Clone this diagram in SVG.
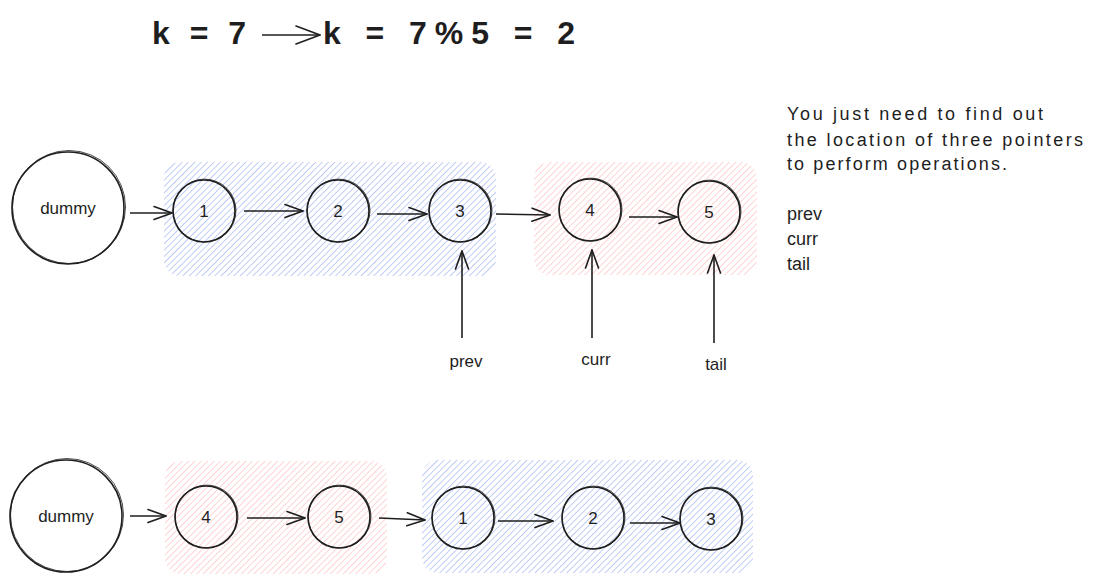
<svg xmlns="http://www.w3.org/2000/svg" width="1094" height="583" viewBox="0 0 1094 583">
  <defs>
    <pattern id="hBlue" width="4.5" height="4.5" patternUnits="userSpaceOnUse" patternTransform="rotate(45)">
      <line x1="0" y1="0" x2="0" y2="4.5" stroke="#9fb3f2" stroke-width="1.3"/>
    </pattern>
    <pattern id="hRed" width="4.5" height="4.5" patternUnits="userSpaceOnUse" patternTransform="rotate(45)">
      <line x1="0" y1="0" x2="0" y2="4.5" stroke="#ffbcbc" stroke-width="1.3"/>
    </pattern>
    <marker id="ah" viewBox="0 0 20 16" refX="19" refY="8" markerWidth="20" markerHeight="16" markerUnits="userSpaceOnUse" orient="auto">
      <path d="M1,1.5 L19,8 L1,14.5" fill="none" stroke="#1e1e1e" stroke-width="1.6" stroke-linecap="round"/>
    </marker>
    <marker id="ahBig" viewBox="0 0 26 22" refX="25" refY="11" markerWidth="26" markerHeight="22" markerUnits="userSpaceOnUse" orient="auto">
      <path d="M1,2 L25,11 L1,20" fill="none" stroke="#1e1e1e" stroke-width="1.6" stroke-linecap="round"/>
    </marker>
  </defs>
  <style>
    .node circle { fill: none; stroke: #1e1e1e; }
    .c1 { stroke-width: 1.6; }
    .c2 { stroke-width: 0.8; }
    .lbl { font-family: "Liberation Sans", Arial, sans-serif; font-size: 17px; fill: #1e1e1e; text-anchor: middle; }
    .txt { font-family: "Liberation Sans", Arial, sans-serif; font-size: 18px; fill: #1e1e1e; }
    .title { font-family: "Liberation Sans", Arial, sans-serif; font-size: 32px; font-weight: bold; fill: #1e1e1e; }
    .conn line { stroke: #1e1e1e; stroke-width: 1.6; fill: none; marker-end: url(#ah); }
    .conn line.big { marker-end: url(#ahBig); }
    .bg { stroke: none; }
  </style>
  <rect width="1094" height="583" fill="#ffffff"/>

  <g id="title">
    <text class="title" x="152" y="44" textLength="94" lengthAdjust="spacing">k = 7</text>
    <text class="title" x="323" y="44" textLength="252" lengthAdjust="spacing">k = 7%5 = 2</text>
  </g>

  <g id="groups">
    <rect id="bg-top-blue" class="bg" x="164" y="162" width="332" height="114" rx="16" fill="url(#hBlue)"/>
    <rect id="bg-top-red" class="bg" x="534" y="162" width="223" height="113" rx="16" fill="url(#hRed)"/>
    <rect id="bg-bot-red" class="bg" x="165" y="461" width="222" height="113" rx="16" fill="url(#hRed)"/>
    <rect id="bg-bot-blue" class="bg" x="422" y="460" width="331" height="113" rx="16" fill="url(#hBlue)"/>
  </g>

  <g id="connectors" class="conn">
    <line class="big" x1="262" y1="35" x2="320" y2="35"/>
    <line x1="130" y1="213" x2="172" y2="213"/>
    <line x1="244" y1="211" x2="303" y2="211"/>
    <line x1="377" y1="214" x2="427" y2="214"/>
    <line x1="496" y1="214" x2="550" y2="215"/>
    <line x1="629" y1="217" x2="677" y2="217"/>
    <line x1="462" y1="338" x2="462" y2="251"/>
    <line x1="592" y1="338" x2="592" y2="250"/>
    <line x1="714" y1="343" x2="714" y2="255"/>
    <line x1="130" y1="516" x2="166" y2="516"/>
    <line x1="247" y1="518" x2="305" y2="518"/>
    <line x1="379" y1="518" x2="425" y2="520"/>
    <line x1="498" y1="521" x2="553" y2="521"/>
    <line x1="630" y1="523" x2="680" y2="523"/>
  </g>

  <g id="dummy-top" class="node">
    <circle class="c1" cx="68" cy="208" r="56"/>
    <circle class="c2" cx="69" cy="207" r="56.5"/>
    <text class="lbl" x="68" y="214">dummy</text>
  </g>
  <g id="n1-top" class="node">
    <circle class="c1" cx="204" cy="211" r="31"/>
    <circle class="c2" cx="204.6" cy="210.5" r="31.4"/>
    <text class="lbl" x="204" y="217">1</text>
  </g>
  <g id="n2-top" class="node">
    <circle class="c1" cx="338" cy="211" r="31"/>
    <circle class="c2" cx="338.6" cy="210.5" r="31.4"/>
    <text class="lbl" x="338" y="217">2</text>
  </g>
  <g id="n3-top" class="node">
    <circle class="c1" cx="460" cy="211" r="31"/>
    <circle class="c2" cx="460.6" cy="210.5" r="31.4"/>
    <text class="lbl" x="460" y="217">3</text>
  </g>
  <g id="n4-top" class="node">
    <circle class="c1" cx="590" cy="210" r="31"/>
    <circle class="c2" cx="590.6" cy="209.5" r="31.4"/>
    <text class="lbl" x="590" y="216">4</text>
  </g>
  <g id="n5-top" class="node">
    <circle class="c1" cx="709" cy="212" r="31"/>
    <circle class="c2" cx="709.6" cy="211.5" r="31.4"/>
    <text class="lbl" x="709" y="218">5</text>
  </g>

  <g id="ptr-labels">
    <text class="lbl" x="466" y="367">prev</text>
    <text class="lbl" x="596" y="365">curr</text>
    <text class="lbl" x="716" y="370">tail</text>
  </g>

  <g id="note">
    <text class="txt" x="787" y="120" textLength="256" lengthAdjust="spacing">You just need to find out</text>
    <text class="txt" x="787" y="146" textLength="296" lengthAdjust="spacing">the location of three pointers</text>
    <text class="txt" x="787" y="170" textLength="220" lengthAdjust="spacing">to perform operations.</text>
    <text class="txt" x="787" y="220">prev</text>
    <text class="txt" x="787" y="245">curr</text>
    <text class="txt" x="787" y="270">tail</text>
  </g>

  <g id="dummy-bot" class="node">
    <circle class="c1" cx="66" cy="516" r="56"/>
    <circle class="c2" cx="67" cy="515" r="56.5"/>
    <text class="lbl" x="66" y="522">dummy</text>
  </g>
  <g id="n4-bot" class="node">
    <circle class="c1" cx="206" cy="517" r="31"/>
    <circle class="c2" cx="206.6" cy="516.5" r="31.4"/>
    <text class="lbl" x="206" y="523">4</text>
  </g>
  <g id="n5-bot" class="node">
    <circle class="c1" cx="339" cy="517" r="31"/>
    <circle class="c2" cx="339.6" cy="516.5" r="31.4"/>
    <text class="lbl" x="339" y="523">5</text>
  </g>
  <g id="n1-bot" class="node">
    <circle class="c1" cx="463" cy="518" r="31"/>
    <circle class="c2" cx="463.6" cy="517.5" r="31.4"/>
    <text class="lbl" x="463" y="524">1</text>
  </g>
  <g id="n2-bot" class="node">
    <circle class="c1" cx="593" cy="518" r="31"/>
    <circle class="c2" cx="593.6" cy="517.5" r="31.4"/>
    <text class="lbl" x="593" y="524">2</text>
  </g>
  <g id="n3-bot" class="node">
    <circle class="c1" cx="711" cy="519" r="31"/>
    <circle class="c2" cx="711.6" cy="518.5" r="31.4"/>
    <text class="lbl" x="711" y="525">3</text>
  </g>
</svg>
